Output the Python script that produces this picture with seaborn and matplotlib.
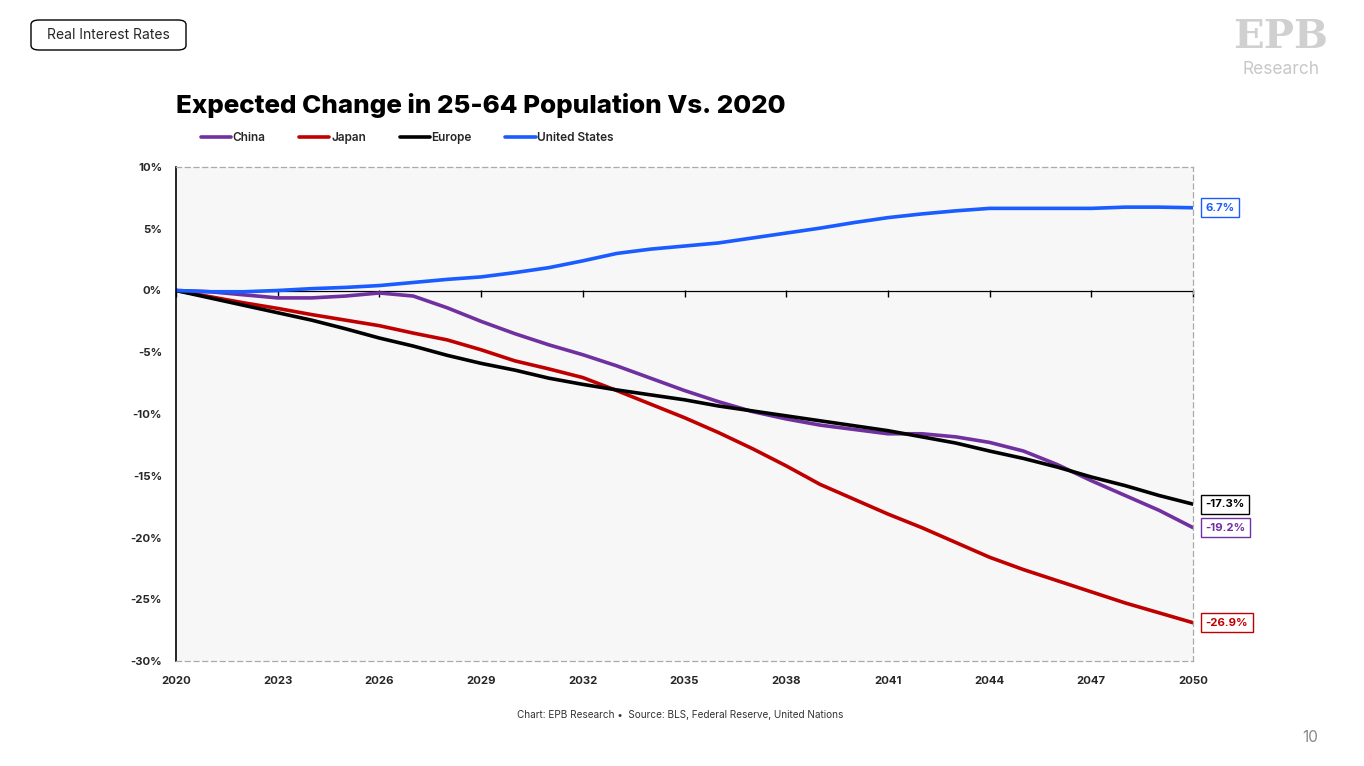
import numpy as np
import pandas as pd
import matplotlib
matplotlib.use("Agg")
import matplotlib.pyplot as plt
import seaborn as sns
from matplotlib.patches import FancyBboxPatch

years = list(range(2020, 2051))
china = [0, -0.1, -0.35, -0.6, -0.6, -0.45, -0.2, -0.45, -1.4, -2.5, -3.5, -4.4, -5.2, -6.1, -7.1, -8.1,
         -9.0, -9.8, -10.4, -10.9, -11.25, -11.6, -11.6, -11.85, -12.3, -13.0, -14.1, -15.4, -16.6, -17.8, -19.2]
japan = [0, -0.5, -1.0, -1.45, -1.95, -2.4, -2.85, -3.45, -4.0, -4.8, -5.7, -6.35, -7.05, -8.1, -9.2, -10.3,
         -11.5, -12.8, -14.2, -15.7, -16.9, -18.1, -19.2, -20.4, -21.6, -22.6, -23.5, -24.4, -25.3, -26.1, -26.9]
europe = [0, -0.6, -1.2, -1.8, -2.4, -3.1, -3.85, -4.5, -5.25, -5.9, -6.45, -7.1, -7.6, -8.05, -8.45, -8.85,
          -9.35, -9.75, -10.15, -10.55, -10.95, -11.35, -11.85, -12.35, -13.0, -13.6, -14.3, -15.1, -15.8, -16.6, -17.3]
us = [0, -0.1, -0.1, 0, 0.15, 0.25, 0.4, 0.65, 0.9, 1.1, 1.45, 1.85, 2.4, 3.0, 3.35, 3.6,
      3.85, 4.25, 4.65, 5.05, 5.5, 5.9, 6.2, 6.45, 6.65, 6.65, 6.65, 6.65, 6.75, 6.75, 6.7]
series_names = ["China", "Japan", "Europe", "United States"]
end_labels = ["-19.2%", "-26.9%", "-17.3%", "6.7%"]
xtick_years = list(range(2020, 2051, 3))
ytick_vals = [10, 5, 0, -5, -10, -15, -20, -25, -30]

colors = {"China": "#7030a0", "Japan": "#c00000", "Europe": "#000000", "United States": "#1a5cff"}

df = pd.concat([
    pd.DataFrame({"Year": years, "Value": vals, "Series": name})
    for name, vals in zip(series_names, [china, japan, europe, us])
])

sns.set_theme(style="white")
plt.rcParams['font.family'] = ['Inter', 'DejaVu Sans']

fig = plt.figure(figsize=(13.64, 7.66), dpi=100)
ax = fig.add_axes([176/1364, 1 - 661/766, (1193-176)/1364, (661-167)/766])
ax.set_facecolor("#f7f7f7")

sns.lineplot(data=df, x="Year", y="Value", hue="Series", hue_order=series_names,
             palette=colors, linewidth=2.6, ax=ax, legend=False)

ax.set_xlim(2020, 2050)
ax.set_ylim(-30, 10)
ax.set_xticks(xtick_years)
ax.set_xticklabels([str(y) for y in xtick_years], fontsize=8.2, fontweight="bold")
ax.set_yticks(ytick_vals)
ax.set_yticklabels([f"{v}%" for v in ytick_vals], fontsize=8.2, fontweight="bold")
ax.set_xlabel("")
ax.set_ylabel("")
ax.tick_params(axis="x", length=0, pad=11)
ax.tick_params(axis="y", length=5, width=1, color="black", direction="out", pad=5)

for s in ["top", "bottom", "right"]:
    ax.spines[s].set_linestyle((0, (4, 3)))
    ax.spines[s].set_color("#aaaaaa")
    ax.spines[s].set_linewidth(0.9)
ax.spines["left"].set_color("black")
ax.spines["left"].set_linewidth(1.2)

# zero line with ticks
ax.axhline(0, color="black", linewidth=0.9, zorder=1.5)
sec = ax.secondary_xaxis(0.75)
sec.set_xticks(xtick_years)
sec.set_xticklabels([])
sec.tick_params(axis="x", direction="in", length=5, width=1, color="black")
for sp in sec.spines.values():
    sp.set_visible(False)

# end labels
for name, lab, vals in zip(series_names, end_labels, [china, japan, europe, us]):
    ax.annotate(lab, xy=(2050, vals[-1]), xytext=(9, 0), textcoords="offset points",
                ha="left", va="center", fontsize=8.2, fontweight="bold", color=colors[name],
                bbox=dict(boxstyle="square,pad=0.4", fc="white", ec=colors[name], lw=1.0),
                annotation_clip=False)

# legend
handles = [plt.Line2D([0], [0], color=colors[n], lw=2.6) for n in series_names]
fig.legend(handles, series_names, loc="center left", bbox_to_anchor=(190/1364, 1 - 138/766),
           ncol=4, frameon=False, handlelength=2.55, handletextpad=0.15, columnspacing=2.85,
           prop={"size": 8.5, "weight": "semibold"})

# title
fig.text(176/1364, 1 - 105/766, "Expected Change in 25-64 Population Vs. 2020",
         fontsize=18.7, fontweight="heavy", ha="left", va="center", color="black")

# top-left tag
box = FancyBboxPatch((31/1364, 1 - 50/766), (186-31)/1364, 30/766,
                     boxstyle="round,pad=0,rounding_size=0.006", transform=fig.transFigure,
                     fc="white", ec="black", lw=1.0)
fig.patches.append(box)
fig.text(108/1364, 1 - 35/766, "Real Interest Rates", fontsize=10, ha="center", va="center")

# logo
fig.text(1281/1364, 1 - 37/766, "EPB", fontsize=29, fontweight="bold", family="DejaVu Serif",
         color="#d0d0d0", ha="center", va="center")
fig.text(1281/1364, 1 - 69/766, "Research", fontsize=12.5, color="#c8c8c8", ha="center", va="center")

# footer
fig.text(680/1364, 1 - 715/766, "Chart: EPB Research \u2022  Source: BLS, Federal Reserve, United Nations",
         fontsize=7.2, ha="center", va="center", color="#333333")
fig.text(1310/1364, 1 - 737/766, "10", fontsize=11, ha="center", va="center", color="#888888")

fig.savefig("out.png", dpi=100, facecolor="white")
